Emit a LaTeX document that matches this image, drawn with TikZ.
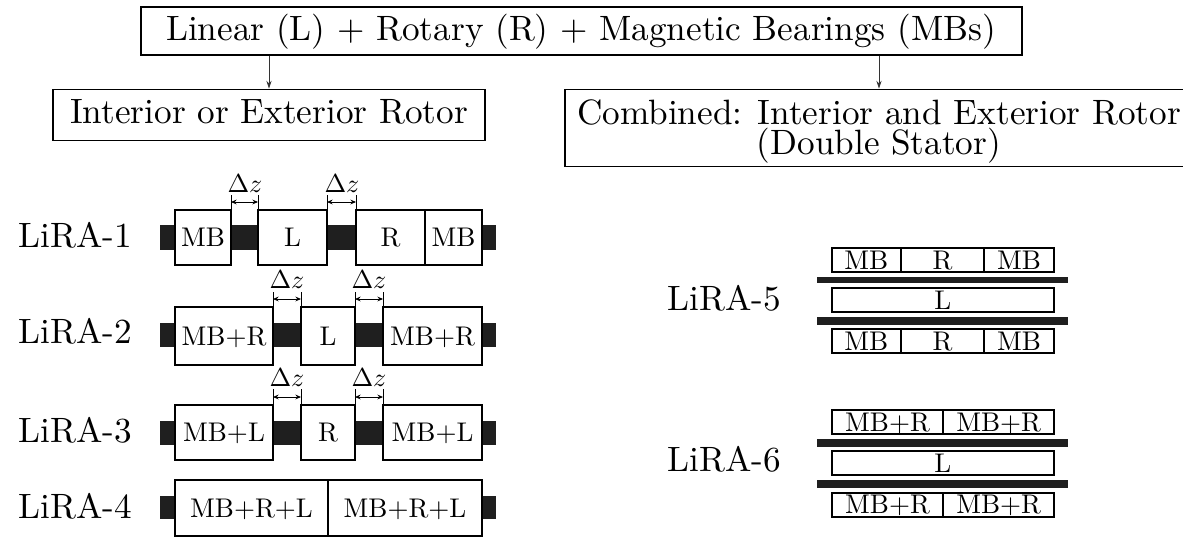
\documentclass[tikz,border=0pt]{standalone}
\usetikzlibrary{arrows.meta}
\begin{document}
\begin{tikzpicture}[x=0.5pt,y=-0.5pt,
  bigfont/.style={font=\fontsize{10}{12}\selectfont, scale=1.76},
  smallfont/.style={font=\fontsize{10}{12}\selectfont, scale=1.35},
  frame/.style={draw, line width=0.6pt, inner sep=0pt},
  bigtext/.style={bigfont, inner sep=0pt, anchor=base},
  cellline/.style={draw, fill=white, line width=0.9pt},
  celltext/.style={smallfont, inner sep=0pt, text height=0.683em, text depth=0pt},
  shaft/.style={fill=black!88},
  conn/.style={-{Stealth[length=4pt,width=2.6pt]}, line width=0.5pt, draw=black!80},
  dz/.style={{Stealth[length=2.8pt,width=2.4pt]}-{Stealth[length=2.8pt,width=2.4pt]}, line width=0.45pt},
  tick/.style={line width=0.45pt},
  lbl/.style={bigfont, inner sep=0pt, anchor=base west},
  dzl/.style={font=\fontsize{10}{12}\selectfont, scale=1.3, inner sep=0pt, anchor=base}
]
\useasboundingbox (0,0) rectangle (1183,541);
\newcommand\cellbox[6]{%
  \draw[cellline] (#1,#3) rectangle (#2,#4);
  \node[celltext] (#6) at ({(#1+#2)/2},{(#3+#4)/2}) {#5};}

% top hierarchy
\node[frame, minimum width=440.5pt, minimum height=24pt] (top) at (581.5,31) {};
\node[bigtext] (toptext) at (581,40) {Linear (L) + Rotary (R) + Magnetic Bearings (MBs)};
\node[frame, minimum width=216pt, minimum height=25.4pt] (left) at (269,114.7) {};
\node[bigtext] (lefttext) at (269,123) {Interior or Exterior Rotor};
\node[frame, minimum width=315pt, minimum height=38.7pt] (right) at (880,128) {};
\node[font=\fontsize{10}{8.52}\selectfont, scale=1.76, inner sep=0pt, align=center, anchor=north]
  (righttext) at (879,98.6) {Combined: Interior and Exterior Rotor\\(Double Stator)};
\draw[conn] (top.south -| left.north) -- (left.north);
\draw[conn] (top.south -| 879,0) -- (right.north -| 879,0);

% labels
\node[lbl] (l1) at (18,247) {LiRA-1};
\node[lbl] (l2) at (18,343.5) {LiRA-2};
\node[lbl] (l3) at (18,442) {LiRA-3};
\node[lbl] (l4) at (18,518) {LiRA-4};
\node[lbl] (l5) at (667,310) {LiRA-5};
\node[lbl] (l6) at (667,471.5) {LiRA-6};

% LiRA-1
\fill[shaft] (160,225) rectangle (496,250);
\cellbox{175}{231}{210}{265}{MB}{a1}
\cellbox{258}{327}{210}{265}{L}{a2}
\cellbox{356}{425}{210}{265}{R}{a3}
\cellbox{425}{482}{210}{265}{MB}{a4}
\draw[tick] (231,195) -- (231,210); \draw[tick] (258,195) -- (258,210);
\draw[tick] (327,195) -- (327,210); \draw[tick] (356,195) -- (356,210);
\draw[dz] (231,202) -- (258,202);
\draw[dz] (327,202) -- (356,202);
\node[dzl] (d11) at (245,192) {$\Delta z$};
\node[dzl] (d12) at (342,192) {$\Delta z$};

% LiRA-2
\fill[shaft] (160,323) rectangle (496,347);
\cellbox{175}{273}{307}{365}{MB+R}{b1}
\cellbox{301}{355}{307}{365}{L}{b2}
\cellbox{383}{482}{307}{365}{MB+R}{b3}
\draw[tick] (273,292) -- (273,307); \draw[tick] (301,292) -- (301,307);
\draw[tick] (355,292) -- (355,307); \draw[tick] (383,292) -- (383,307);
\draw[dz] (273,299) -- (301,299);
\draw[dz] (355,299) -- (383,299);
\node[dzl] (d21) at (287,288.5) {$\Delta z$};
\node[dzl] (d22) at (369,288.5) {$\Delta z$};

% LiRA-3
\fill[shaft] (160,421) rectangle (496,445);
\cellbox{175}{273}{405}{460}{MB+L}{c1}
\cellbox{301}{355}{405}{460}{R}{c2}
\cellbox{383}{482}{405}{460}{MB+L}{c3}
\draw[tick] (273,389) -- (273,405); \draw[tick] (301,389) -- (301,405);
\draw[tick] (355,389) -- (355,405); \draw[tick] (383,389) -- (383,405);
\draw[dz] (273,397) -- (301,397);
\draw[dz] (355,397) -- (383,397);
\node[dzl] (d31) at (287,386) {$\Delta z$};
\node[dzl] (d32) at (369,386) {$\Delta z$};

% LiRA-4
\fill[shaft] (160,496) rectangle (496,519);
\cellbox{175}{328}{480}{536}{MB+R+L}{e1}
\cellbox{328}{482}{480}{536}{MB+R+L}{e2}

% LiRA-5
\cellbox{831.7}{901}{248.3}{272.3}{MB}{f1}
\cellbox{901}{984.3}{248.3}{272.3}{R}{f2}
\cellbox{984.3}{1054}{248.3}{272.3}{MB}{f3}
\fill[shaft] (817,276.7) rectangle (1068,283.3);
\cellbox{831.7}{1054}{288.3}{312.3}{L}{f4}
\fill[shaft] (817,317.3) rectangle (1068,325);
\cellbox{831.7}{901}{329.3}{352.7}{MB}{f5}
\cellbox{901}{984.3}{329.3}{352.7}{R}{f6}
\cellbox{984.3}{1054}{329.3}{352.7}{MB}{f7}

% LiRA-6
\cellbox{831.7}{943.3}{410}{434.3}{MB+R}{g1}
\cellbox{943.3}{1054}{410}{434.3}{MB+R}{g2}
\fill[shaft] (817,439.3) rectangle (1068,446.7);
\cellbox{831.7}{1054}{451}{475}{L}{g3}
\fill[shaft] (817,480) rectangle (1068,488.3);
\cellbox{831.7}{943.3}{492.7}{516.7}{MB+R}{g4}
\cellbox{943.3}{1054}{492.7}{516.7}{MB+R}{g5}
\end{tikzpicture}
\end{document}
